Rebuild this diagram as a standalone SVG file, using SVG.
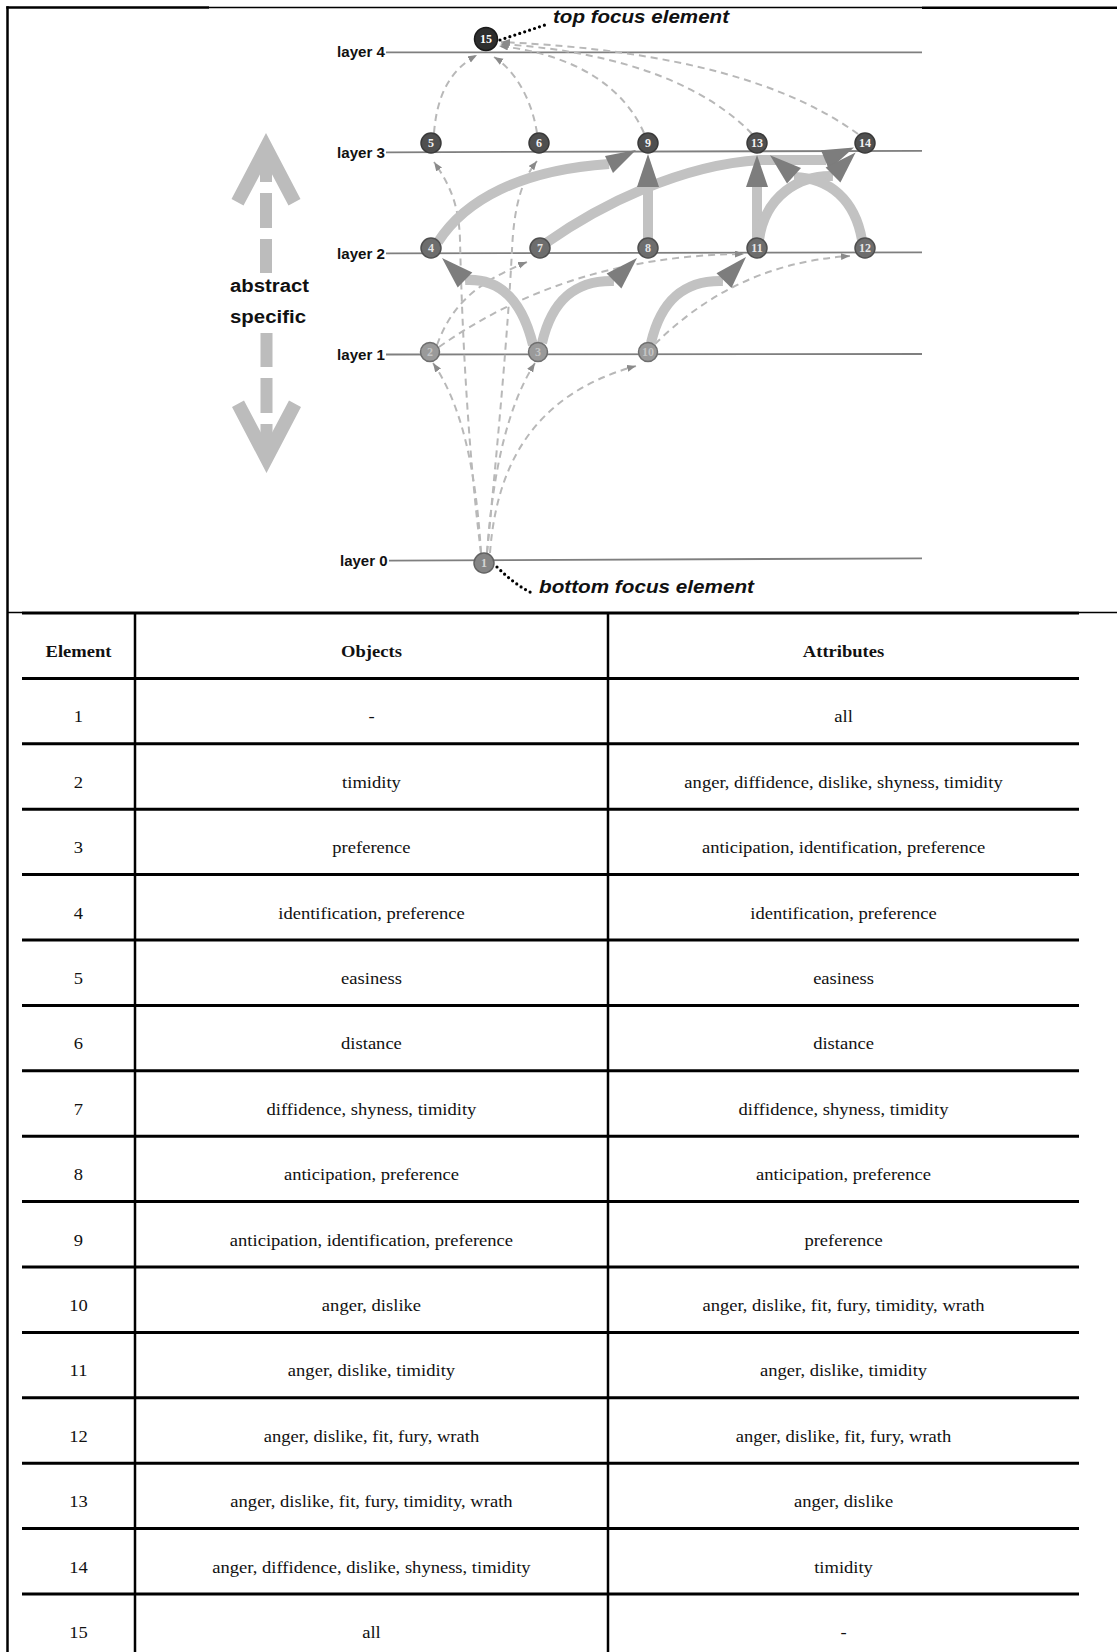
<svg xmlns="http://www.w3.org/2000/svg" width="1117" height="1652" viewBox="0 0 1117 1652">
  <defs>
    <style>
      .frame { stroke: #000; fill: none; }
      .layer { stroke: #7f7f7f; stroke-width: 1.8; fill: none; }
      .lbl { font-family: "Liberation Sans", Arial, sans-serif; font-weight: bold; font-size: 14.5px; fill: #111; }
      .big { font-family: "Liberation Sans", Arial, sans-serif; font-weight: bold; font-size: 18px; fill: #111; text-anchor: middle; }
      .focus { font-family: "Liberation Sans", Arial, sans-serif; font-weight: bold; font-style: italic; font-size: 17.5px; fill: #111; }
      .dir { fill: #bcbcbc; }
      .dash { stroke: #b8b8b8; stroke-width: 2; stroke-dasharray: 7 5; fill: none; marker-end: url(#tip); }
      .thick { stroke: #c2c2c2; stroke-width: 10; fill: none; }
      .head { fill: #7d7d7d; }
      .lead { stroke: #000; stroke-width: 3.2; stroke-linecap: round; stroke-dasharray: 0 5.2; fill: none; }
      .nlabel { font-family: "Liberation Serif", "Times New Roman", serif; font-weight: bold; font-size: 12px; text-anchor: middle; }
      .n15 { fill: #2e2e2e; stroke: #1a1a1a; stroke-width: 1.5; }
      .n3 { fill: #4f4f4f; stroke: #3a3a3a; stroke-width: 1.5; }
      .n2 { fill: #6d6d6d; stroke: #4f4f4f; stroke-width: 1.5; }
      .n1 { fill: #9a9a9a; stroke: #6f6f6f; stroke-width: 1.5; }
      .n0 { fill: #858585; stroke: #626262; stroke-width: 1.5; }
      .tl { stroke: #000; stroke-width: 3; }
      .tv { stroke: #000; stroke-width: 2.5; }
      .cell { font-family: "Liberation Serif", "Times New Roman", serif; font-size: 16.5px; fill: #111; text-anchor: middle; }
      .head-cell { font-weight: bold; }
    </style>
    <marker id="tip" markerUnits="userSpaceOnUse" markerWidth="10" markerHeight="8" refX="9" refY="3.5" orient="auto">
      <path d="M0,0 L9,3.5 L0,7 z" fill="#8a8a8a"/>
    </marker>
  </defs>

  <rect width="1117" height="1652" fill="#fff"/>

  <!-- outer frame round the lattice drawing -->
  <g id="frame">
    <line class="frame" x1="7.5" y1="6.3" x2="7.5" y2="1652" stroke-width="2.5"/>
    <line class="frame" x1="6.3" y1="7.5" x2="209" y2="7.5" stroke-width="2.5"/>
    <line class="frame" x1="209" y1="7.5" x2="922" y2="7.5" stroke-width="1.3"/>
    <line class="frame" x1="922" y1="7.8" x2="1117" y2="7.8" stroke-width="2.5"/>
    <line class="frame" x1="7" y1="612.5" x2="22" y2="612.5" stroke-width="1.5"/>
    <line class="frame" x1="1079" y1="612.5" x2="1117" y2="612.5" stroke-width="1.5"/>
  </g>

  <!-- direction indicator: abstract (up) / specific (down) -->
  <g id="direction">
    <polygon class="dir" points="266,133 300.5,199 288.5,205.5 266,163 243.5,205.5 231.5,199"/>
    <rect class="dir" x="260" y="163" width="12" height="19"/>
    <rect class="dir" x="260" y="193" width="12" height="35"/>
    <rect class="dir" x="260" y="239" width="12" height="34"/>
    <polygon class="dir" points="266.5,473 301,407 289,400.5 266.5,443 244,400.5 232,407"/>
    <rect class="dir" x="260.5" y="424" width="12" height="19"/>
    <rect class="dir" x="260.5" y="378" width="12" height="35"/>
    <rect class="dir" x="260.5" y="333" width="12" height="34"/>
    <text class="big" x="269.5" y="292" textLength="79" lengthAdjust="spacingAndGlyphs">abstract</text>
    <text class="big" x="268" y="322.5" textLength="76" lengthAdjust="spacingAndGlyphs">specific</text>
  </g>

  <!-- layer rulers -->
  <g id="layers">
    <line class="layer" x1="386" y1="52.3" x2="922" y2="52.3"/>
    <line class="layer" x1="386" y1="152.3" x2="922" y2="150.8"/>
    <line class="layer" x1="386" y1="253.3" x2="922" y2="252.4"/>
    <line class="layer" x1="386" y1="354.5" x2="922" y2="354"/>
    <line class="layer" x1="389" y1="560.7" x2="922" y2="558.3"/>
    <text class="lbl" x="337" y="57" textLength="48" lengthAdjust="spacingAndGlyphs">layer 4</text>
    <text class="lbl" x="337" y="157.5" textLength="48" lengthAdjust="spacingAndGlyphs">layer 3</text>
    <text class="lbl" x="337" y="258.5" textLength="48" lengthAdjust="spacingAndGlyphs">layer 2</text>
    <text class="lbl" x="337" y="359.5" textLength="48" lengthAdjust="spacingAndGlyphs">layer 1</text>
    <text class="lbl" x="340" y="566" textLength="47.5" lengthAdjust="spacingAndGlyphs">layer 0</text>
  </g>

  <g id="connectors">
    <!-- dashed covers -->
    <path class="dash" d="M481,553 C476,470 462,405 433,363"/>
    <path class="dash" d="M487,553 C493,470 508,405 535,363"/>
    <path class="dash" d="M490,553 C496,470 530,395 636,366"/>
    <path class="dash" d="M481,553 C468,450 462,330 460,240 C459,205 450,185 434,162"/>
    <path class="dash" d="M487,553 C498,440 508,330 512,250 C514,205 522,180 537,161"/>
    <path class="dash" d="M437,345 C450,310 470,285 527,262"/>
    <path class="dash" d="M439,347 C520,290 620,255 744,254"/>
    <path class="dash" d="M655,344 C700,300 760,262 850,256"/>
    <path class="dash" d="M434,133 C437,95 450,70 477,55"/>
    <path class="dash" d="M537,133 C532,100 515,70 494,57"/>
    <path class="dash" d="M644,133 C625,90 580,55 499,46"/>
    <path class="dash" d="M752,134 C710,90 630,52 500,44"/>
    <path class="dash" d="M858,134 C790,85 680,50 501,42"/>

    <!-- solid covers -->
    <path class="thick" d="M533,345 C522,300 500,278 465,280"/>
    <path class="thick" d="M542,343 C552,300 575,280 614,281"/>
    <path class="thick" d="M651,343 C661,300 684,280 723,281"/>
    <path class="thick" d="M438,242 C465,200 520,170 609,164"/>
    <path class="thick" d="M648,243 L648,187"/>
    <path class="thick" d="M757,243 L757,187"/>
    <path class="thick" d="M546,243 C600,205 680,165 760,160 L826,160"/>
    <path class="thick" d="M759,240 C765,195 800,175 833,176"/>
    <path class="thick" d="M862,240 C855,200 830,178 794,177"/>

    <!-- solid cover heads -->
    <polygon class="head" points="442,258 472.3,272.4 457.7,287.6"/>
    <polygon class="head" points="637,258 606.6,273.6 621.4,288.4"/>
    <polygon class="head" points="746,257 716.5,273.3 731.5,288"/>
    <polygon class="head" points="636,150 605,156 613,173"/>
    <polygon class="head" points="648,154 637,187 659,187"/>
    <polygon class="head" points="757,155 746,187 768,187"/>
    <polygon class="head" points="854,147.5 821,150.3 829,169.7"/>
    <polygon class="head" points="855.6,152.4 825.6,167.6 840.4,182.4"/>
    <polygon class="head" points="770,155.3 787,183.5 801,168"/>

    <!-- focus leaders -->
    <path class="lead" d="M500,40 L548,24"/>
    <path class="lead" d="M497,567 Q515,585 532,593"/>
  </g>

  <text class="focus" x="553" y="23.3" textLength="176" lengthAdjust="spacingAndGlyphs">top focus element</text>
  <text class="focus" x="539" y="593" textLength="215" lengthAdjust="spacingAndGlyphs">bottom focus element</text>

  <!-- lattice elements -->
  <g id="node-15"><circle class="n15" cx="486" cy="39" r="11.5"/><text class="nlabel" x="486" y="43.2" fill="#fff">15</text></g>
  <g id="node-5"><circle class="n3" cx="431" cy="143" r="10"/><text class="nlabel" x="431" y="147.2" fill="#f2f2f2">5</text></g>
  <g id="node-6"><circle class="n3" cx="539" cy="143" r="10"/><text class="nlabel" x="539" y="147.2" fill="#f2f2f2">6</text></g>
  <g id="node-9"><circle class="n3" cx="648" cy="143" r="10"/><text class="nlabel" x="648" y="147.2" fill="#f2f2f2">9</text></g>
  <g id="node-13"><circle class="n3" cx="757" cy="143" r="10"/><text class="nlabel" x="757" y="147.2" fill="#f2f2f2">13</text></g>
  <g id="node-14"><circle class="n3" cx="865" cy="143" r="10"/><text class="nlabel" x="865" y="147.2" fill="#f2f2f2">14</text></g>
  <g id="node-4"><circle class="n2" cx="431" cy="248" r="10"/><text class="nlabel" x="431" y="252.2" fill="#e6e6e6">4</text></g>
  <g id="node-7"><circle class="n2" cx="540" cy="248" r="10"/><text class="nlabel" x="540" y="252.2" fill="#e6e6e6">7</text></g>
  <g id="node-8"><circle class="n2" cx="648" cy="248" r="10"/><text class="nlabel" x="648" y="252.2" fill="#e6e6e6">8</text></g>
  <g id="node-11"><circle class="n2" cx="757" cy="248" r="10"/><text class="nlabel" x="757" y="252.2" fill="#e6e6e6">11</text></g>
  <g id="node-12"><circle class="n2" cx="865" cy="248" r="10"/><text class="nlabel" x="865" y="252.2" fill="#e6e6e6">12</text></g>
  <g id="node-2"><circle class="n1" cx="430" cy="352" r="9.5"/><text class="nlabel" x="430" y="356.2" fill="#c4c4c4">2</text></g>
  <g id="node-3"><circle class="n1" cx="538" cy="352" r="9.5"/><text class="nlabel" x="538" y="356.2" fill="#c4c4c4">3</text></g>
  <g id="node-10"><circle class="n1" cx="648" cy="352" r="9.5"/><text class="nlabel" x="648" y="356.2" fill="#c4c4c4">10</text></g>
  <g id="node-1"><circle class="n0" cx="484" cy="563" r="10"/><text class="nlabel" x="484" y="567.2" fill="#d4d4d4">1</text></g>

  <!-- element table -->
  <g id="table">
    <g id="table-rules">
      <line class="tl" x1="22" y1="613" x2="1079" y2="613"/>
      <line class="tl" x1="22" y1="678.4" x2="1079" y2="678.4"/>
      <line class="tl" x1="22" y1="743.8" x2="1079" y2="743.8"/>
      <line class="tl" x1="22" y1="809.2" x2="1079" y2="809.2"/>
      <line class="tl" x1="22" y1="874.6" x2="1079" y2="874.6"/>
      <line class="tl" x1="22" y1="940" x2="1079" y2="940"/>
      <line class="tl" x1="22" y1="1005.4" x2="1079" y2="1005.4"/>
      <line class="tl" x1="22" y1="1070.8" x2="1079" y2="1070.8"/>
      <line class="tl" x1="22" y1="1136.2" x2="1079" y2="1136.2"/>
      <line class="tl" x1="22" y1="1201.6" x2="1079" y2="1201.6"/>
      <line class="tl" x1="22" y1="1267" x2="1079" y2="1267"/>
      <line class="tl" x1="22" y1="1332.4" x2="1079" y2="1332.4"/>
      <line class="tl" x1="22" y1="1397.8" x2="1079" y2="1397.8"/>
      <line class="tl" x1="22" y1="1463.2" x2="1079" y2="1463.2"/>
      <line class="tl" x1="22" y1="1528.6" x2="1079" y2="1528.6"/>
      <line class="tl" x1="22" y1="1594" x2="1079" y2="1594"/>
      <line class="tv" x1="135" y1="613" x2="135" y2="1652"/>
      <line class="tv" x1="608" y1="613" x2="608" y2="1652"/>
    </g>
    <g id="table-text" transform="scale(1.125 1)">
      <text class="cell head-cell" x="69.8" y="657">Element</text>
      <text class="cell head-cell" x="330.2" y="657">Objects</text>
      <text class="cell head-cell" x="749.8" y="657">Attributes</text>

      <text class="cell" x="69.8" y="722.4">1</text>
      <text class="cell" x="330.2" y="722.4">-</text>
      <text class="cell" x="749.8" y="722.4">all</text>

      <text class="cell" x="69.8" y="787.8">2</text>
      <text class="cell" x="330.2" y="787.8">timidity</text>
      <text class="cell" x="749.8" y="787.8">anger, diffidence, dislike, shyness, timidity</text>

      <text class="cell" x="69.8" y="853.2">3</text>
      <text class="cell" x="330.2" y="853.2">preference</text>
      <text class="cell" x="749.8" y="853.2">anticipation, identification, preference</text>

      <text class="cell" x="69.8" y="918.6">4</text>
      <text class="cell" x="330.2" y="918.6">identification, preference</text>
      <text class="cell" x="749.8" y="918.6">identification, preference</text>

      <text class="cell" x="69.8" y="984">5</text>
      <text class="cell" x="330.2" y="984">easiness</text>
      <text class="cell" x="749.8" y="984">easiness</text>

      <text class="cell" x="69.8" y="1049.4">6</text>
      <text class="cell" x="330.2" y="1049.4">distance</text>
      <text class="cell" x="749.8" y="1049.4">distance</text>

      <text class="cell" x="69.8" y="1114.8">7</text>
      <text class="cell" x="330.2" y="1114.8">diffidence, shyness, timidity</text>
      <text class="cell" x="749.8" y="1114.8">diffidence, shyness, timidity</text>

      <text class="cell" x="69.8" y="1180.2">8</text>
      <text class="cell" x="330.2" y="1180.2">anticipation, preference</text>
      <text class="cell" x="749.8" y="1180.2">anticipation, preference</text>

      <text class="cell" x="69.8" y="1245.6">9</text>
      <text class="cell" x="330.2" y="1245.6">anticipation, identification, preference</text>
      <text class="cell" x="749.8" y="1245.6">preference</text>

      <text class="cell" x="69.8" y="1311">10</text>
      <text class="cell" x="330.2" y="1311">anger, dislike</text>
      <text class="cell" x="749.8" y="1311">anger, dislike, fit, fury, timidity, wrath</text>

      <text class="cell" x="69.8" y="1376.4">11</text>
      <text class="cell" x="330.2" y="1376.4">anger, dislike, timidity</text>
      <text class="cell" x="749.8" y="1376.4">anger, dislike, timidity</text>

      <text class="cell" x="69.8" y="1441.8">12</text>
      <text class="cell" x="330.2" y="1441.8">anger, dislike, fit, fury, wrath</text>
      <text class="cell" x="749.8" y="1441.8">anger, dislike, fit, fury, wrath</text>

      <text class="cell" x="69.8" y="1507.2">13</text>
      <text class="cell" x="330.2" y="1507.2">anger, dislike, fit, fury, timidity, wrath</text>
      <text class="cell" x="749.8" y="1507.2">anger, dislike</text>

      <text class="cell" x="69.8" y="1572.6">14</text>
      <text class="cell" x="330.2" y="1572.6">anger, diffidence, dislike, shyness, timidity</text>
      <text class="cell" x="749.8" y="1572.6">timidity</text>

      <text class="cell" x="69.8" y="1638">15</text>
      <text class="cell" x="330.2" y="1638">all</text>
      <text class="cell" x="749.8" y="1638">-</text>
    </g>
  </g>
</svg>
